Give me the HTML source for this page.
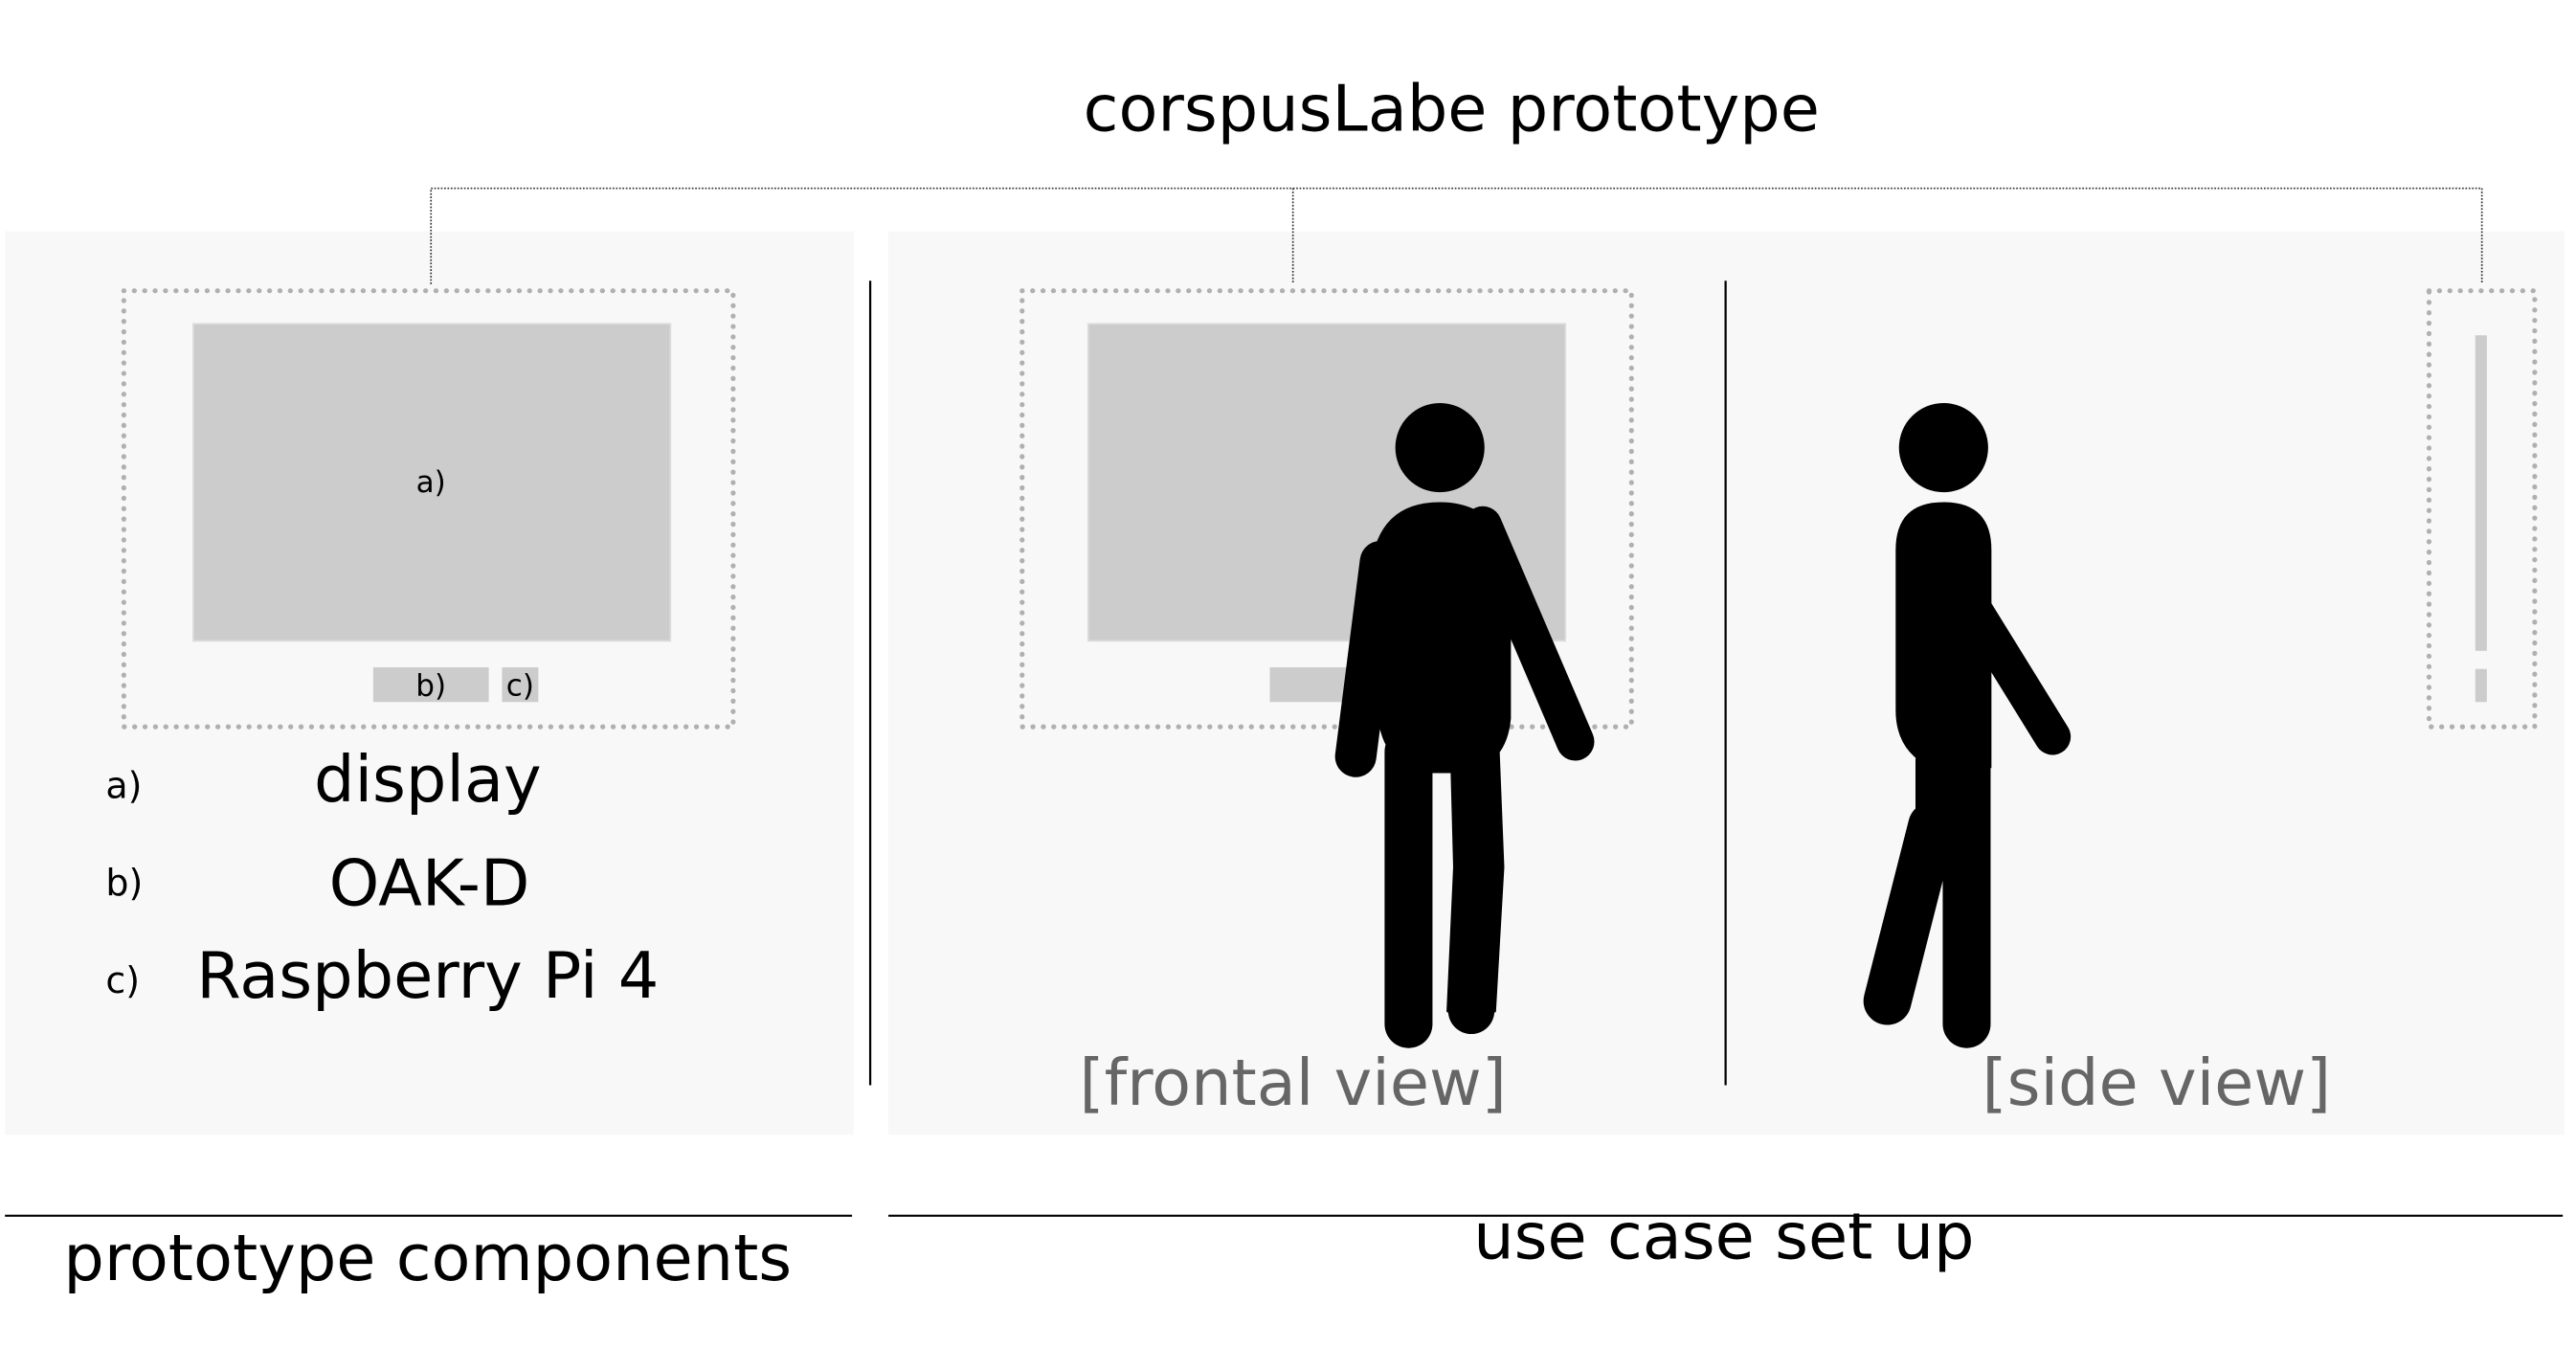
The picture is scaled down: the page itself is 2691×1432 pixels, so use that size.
<!DOCTYPE html>
<html><head><style>html,body{margin:0;padding:0;background:#fff}svg{display:block}</style></head>
<body>
<svg width="2691" height="1432" viewBox="0 0 1560 830" preserveAspectRatio="none" xmlns="http://www.w3.org/2000/svg" font-family="'DejaVu Sans','Liberation Sans',sans-serif">
<rect x="0" y="0" width="1560" height="830" fill="#fff"/>
<rect x="3" y="140" width="514" height="547" fill="#f8f8f8"/>
<rect x="538" y="140" width="1015" height="547" fill="#f8f8f8"/>
<text x="879" y="79" font-size="38.8" text-anchor="middle" fill="#000">corspusLabe prototype</text>
<g stroke="#333" stroke-width="1" stroke-dasharray="1,1" fill="none">
<path d="M261 172 V114 H1503 V172"/>
<path d="M783 114 V172"/>
</g>
<g fill="none" stroke="#b0b0b0" stroke-width="3" stroke-dasharray="0.1,6.2" stroke-linecap="round">
<rect x="75" y="176" width="369" height="264"/>
<rect x="619" y="176" width="369" height="264"/>
<rect x="1471" y="176" width="64" height="264"/>
</g>
<rect x="117" y="196" width="289" height="192" fill="#ccc" stroke="#ddd"/>
<text x="261" y="298" font-size="18" text-anchor="middle">a)</text>
<rect x="226" y="404" width="70" height="21" fill="#ccc"/>
<text x="261" y="421" font-size="18" text-anchor="middle">b)</text>
<rect x="304" y="404" width="22" height="21" fill="#ccc"/>
<text x="315" y="421" font-size="18" text-anchor="middle">c)</text>
<text x="64" y="483" font-size="22">a)</text>
<text x="259" y="485" font-size="38.8" text-anchor="middle">display</text>
<text x="64" y="542" font-size="22">b)</text>
<text x="260" y="548" font-size="38.8" text-anchor="middle">OAK-D</text>
<text x="64" y="601" font-size="22">c)</text>
<text x="259" y="604" font-size="38.8" text-anchor="middle">Raspberry Pi 4</text>
<line x1="527" y1="170" x2="527" y2="657" stroke="#000" stroke-width="1.3"/>
<line x1="1045" y1="170" x2="1045" y2="657" stroke="#000" stroke-width="1.3"/>
<rect x="659" y="196" width="289" height="192" fill="#ccc" stroke="#ddd"/>
<rect x="769" y="404" width="70" height="21" fill="#ccc"/>
<rect x="1499" y="203" width="7" height="191" fill="#ccc"/>
<rect x="1499" y="405" width="7" height="20" fill="#ccc"/>
<!-- frontal person -->
<g fill="#000" stroke="#000" stroke-linecap="round" stroke-linejoin="round">
<ellipse cx="872" cy="271" rx="27" ry="27" stroke="none"/>
<path d="M830 345 Q834 304 872 304 Q900 304 912 328 L915 340 L915 435 Q912 468 878 468 L862 468 Q836 462 834 430 Z" stroke="none"/>
<line x1="836" y1="340" x2="821" y2="458" stroke-width="25"/>
<line x1="898" y1="318" x2="954" y2="449" stroke-width="23"/>
<line x1="853" y1="455" x2="853" y2="620" stroke-width="29"/>
<path d="M879 450 L907 450 L910 525 L905 612 L877 612 L881 525 Z" stroke-width="2"/>
<circle cx="891" cy="612" r="14" stroke="none"/>
</g>
<!-- side person -->
<g fill="#000" stroke="#000" stroke-linecap="round" stroke-linejoin="round">
<circle cx="1177" cy="271" r="27" stroke="none"/>
<path d="M1148 333 Q1148 304 1177 304 Q1206 304 1206 333 L1206 465 L1170 465 Q1148 455 1148 430 Z" stroke="none"/>
<line x1="1196" y1="370" x2="1243" y2="446" stroke-width="22"/>
<line x1="1191" y1="455" x2="1191" y2="620" stroke-width="29"/>
<line x1="1172" y1="460" x2="1172" y2="505" stroke-width="24"/>
<line x1="1170" y1="500" x2="1143" y2="606" stroke-width="29"/>
</g>
<text x="783" y="669" font-size="38.8" text-anchor="middle" fill="#666">[frontal view]</text>
<text x="1306" y="669" font-size="38.8" text-anchor="middle" fill="#666">[side view]</text>
<line x1="3" y1="736" x2="516" y2="736" stroke="#000" stroke-width="1.2"/>
<line x1="538" y1="736" x2="1552" y2="736" stroke="#000" stroke-width="1.2"/>
<text x="259" y="775" font-size="38.8" text-anchor="middle">prototype components</text>
<text x="1044" y="762" font-size="38.8" text-anchor="middle">use case set up</text>
</svg>
</body></html>
